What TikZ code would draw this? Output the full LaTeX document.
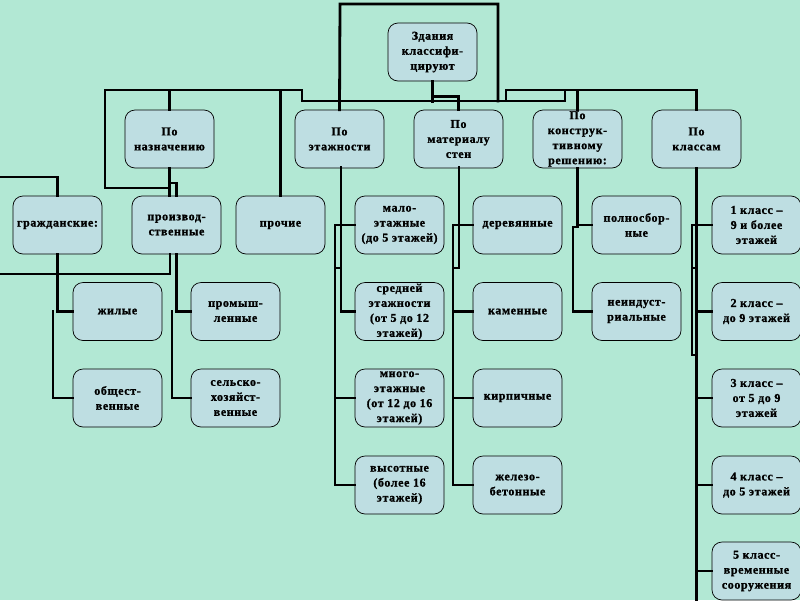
\documentclass[tikz,border=0pt]{standalone}
\usepackage{fontspec}
\setmainfont{Liberation Serif}[LetterSpace=5, BoldFeatures={FakeBold=1.2}]
\definecolor{bgc}{RGB}{178,232,212}
\definecolor{boxc}{RGB}{190,222,226}
\newcommand\mybox[4]{\node[box,label={[txt]center:{#4}}] (#1) at (#2,#3) {};}
\begin{document}
\begin{tikzpicture}[x=1pt,y=-1pt,
  box/.style={draw=black, line width=0.7pt, fill=boxc, rounded corners=10pt, minimum width=89pt, minimum height=58pt, inner sep=0pt},
  txt/.style={align=center, font=\bfseries\fontsize{12}{15}\selectfont, inner sep=0pt},
  wire/.style={line width=2.8pt, line join=miter, line cap=rect}]
\fill[bgc] (0,0) rectangle (800,600);
\useasboundingbox (0,0) rectangle (800,600);
% level 0 / 1
\mybox{root}{432.5}{52}{Здания\\классифи-\\цируют}
\mybox{naz}{169.5}{139}{По\\назначению}
\mybox{etazh}{339.5}{139}{По\\этажности}
\mybox{mat}{458.5}{139}{По\\материалу\\стен}
\mybox{konstr}{577.5}{139}{По\\конструк-\\тивному\\решению:}
\mybox{klass}{696.5}{139}{По\\классам}
% row 2
\mybox{grazh}{57.5}{225}{гражданские:}
\mybox{proizv}{176.5}{225}{производ-\\ственные}
\mybox{proch}{280.5}{225}{прочие}
\mybox{malo}{399.5}{225}{мало-\\этажные\\(до 5 этажей)}
\mybox{derev}{517.5}{225}{деревянные}
\mybox{polno}{636.5}{225}{полносбор-\\ные}
\mybox{k1}{756.5}{225}{1 класс –\\9 и более\\этажей}
% row 3
\mybox{zhil}{117.5}{311.5}{жилые}
\mybox{prom}{235.5}{311.5}{промыш-\\ленные}
\mybox{sred}{399.5}{311.5}{средней\\этажности\\(от 5 до 12\\этажей)}
\mybox{kamen}{517.5}{311.5}{каменные}
\mybox{neind}{636.5}{311.5}{неиндуст-\\риальные}
\mybox{k2}{756.5}{311.5}{2 класс –\\до 9 этажей}
% row 4
\mybox{obsh}{117.5}{398}{общест-\\венные}
\mybox{selsk}{235.5}{398}{сельско-\\хозяйст-\\венные}
\mybox{mnogo}{399.5}{398}{много-\\этажные\\(от 12 до 16\\этажей)}
\mybox{kirp}{517.5}{398}{кирпичные}
\mybox{k3}{756.5}{398}{3 класс –\\от 5 до 9\\этажей}
% row 5
\mybox{vys}{399.5}{485}{высотные\\(более 16\\этажей)}
\mybox{zhbet}{517.5}{485}{железо-\\бетонные}
\mybox{k4}{756.5}{485}{4 класс –\\до 5 этажей}
% row 6
\mybox{k5}{756.5}{571}{5 класс-\\временные\\сооружения}

% ---- connectors: top
\draw[wire] (root.south) -- ++(0,20);
\draw[wire] (302,101) -- (565,101);
\draw[wire] (root.south) ++(0,15) -| (mat.north);
\draw[wire] (302,101) |- (105,90) -- (105,188) -- (naz.south |- 0,188);
\draw[wire] (naz.north) -- (naz.north |- 0,90);
\draw[wire] (proch.north) -- (proch.north |- 0,90);
\draw[wire] (naz.south) -- (naz.south |- proizv.north);
\draw[wire] (naz.south |- 0,183) -| (proizv.north);
\draw[wire] (498,101) |- (340,4) -- (etazh.north);
\draw[wire] (506,101) |- (klass.north |- 0,90) -- (klass.north);
\draw[wire] (565,101) -- (565,90);
\draw[wire] (konstr.north |- 0,90) -- (konstr.north);
% ---- left branches
\draw[wire] (0,177) -| (grazh.north);
\draw[wire] (grazh.south) |- (zhil.west);
\draw[wire] (53,311.5) |- (obsh.west);
\draw[wire] (170,254) |- (0,274);
\draw[wire] (proizv.south) |- (prom.west);
\draw[wire] (172,311.5) |- (selsk.west);
% ---- storeys
\draw[wire] (341,167) |- (sred.west);
\draw[wire] (malo.west) -- (335,225) |- (vys.west);
\draw[wire] (335,398) -- (mnogo.west);
\draw[wire] (335,268) -- (341,268);
% ---- material
\draw[wire] (459,167) |- (453,268);
\draw[wire] (derev.west) -- (453,225) |- (zhbet.west);
\draw[wire] (453,311.5) -- (kamen.west);
\draw[wire] (453,398) -- (kirp.west);
% ---- construction
\draw[wire] (konstr.south) |- (polno.west);
\draw[wire] (578,227) -- (573,227) |- (neind.west);
% ---- classes
\draw[wire] (klass.south) -- (696.5,600);
\draw[wire] (k1.west) -- (692,225) |- (696.5,355);
\draw[wire] (692,268) -- (696.5,268);
\draw[wire] (696.5,311.5) -- (k2.west);
\draw[wire] (696.5,398) -- (k3.west);
\draw[wire] (696.5,485) -- (k4.west);
\draw[wire] (696.5,571) -- (k5.west);
\end{tikzpicture}
\end{document}
